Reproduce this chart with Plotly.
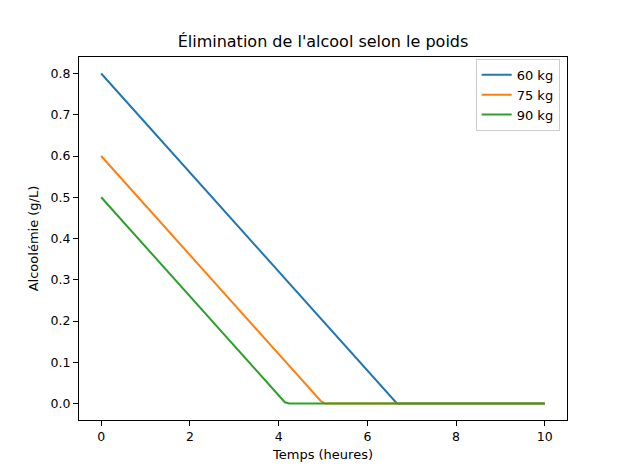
import plotly.graph_objects as go

title = "Élimination de l'alcool selon le poids"
x_label = "Temps (heures)"
y_label = "Alcoolémie (g/L)"

series_names = ["60 kg", "75 kg", "90 kg"]
colors = ["#1f77b4", "#ff7f0e", "#2ca02c"]

t_60 = [0, 6.667, 10]
v_60 = [0.8, 0.0, 0.0]
t_75 = [0, 4.95, 5.05, 10]
v_75 = [0.6, 0.006, 0.0, 0.0]
t_90 = [0, 4.14, 4.24, 10]
v_90 = [0.5, 0.003, 0.0, 0.0]

x_ticks = [0, 2, 4, 6, 8, 10]
y_ticks = [0.0, 0.1, 0.2, 0.3, 0.4, 0.5, 0.6, 0.7, 0.8]

font = "DejaVu Sans"
fig = go.Figure()
for name, t, v, c in zip(series_names, [t_60, t_75, t_90], [v_60, v_75, v_90], colors):
    fig.add_trace(go.Scatter(x=t, y=v, mode="lines", name=name,
                             line=dict(color=c, width=2)))

axis_common = dict(showgrid=False, zeroline=False, showline=True, linecolor="black",
                   linewidth=1.2, mirror=True, ticks="outside", ticklen=5,
                   tickcolor="black", tickwidth=1.2,
                   tickfont=dict(family=font, size=12.5, color="black"))

fig.update_layout(
    width=630, height=472,
    margin=dict(l=79, r=63, t=57, b=52),
    paper_bgcolor="white", plot_bgcolor="white",
    title=dict(text=title, x=0.5127, xanchor="center", y=0.90, yanchor="bottom",
               font=dict(family=font, size=16, color="black")),
    xaxis=dict(range=[-0.5, 10.5], tickvals=x_ticks,
               ticktext=[str(v) for v in x_ticks],
               title=dict(text=x_label, standoff=6,
                          font=dict(family=font, size=13, color="black")),
               **axis_common),
    yaxis=dict(range=[-0.04, 0.84], tickvals=y_ticks,
               ticktext=[f"{v:.1f}" for v in y_ticks],
               title=dict(text=y_label, standoff=8,
                          font=dict(family=font, size=13, color="black")),
               **axis_common),
    legend=dict(x=0.985, y=0.995, xanchor="right", yanchor="top",
                bgcolor="white", bordercolor="#cccccc", borderwidth=1,
                font=dict(family=font, size=13, color="black"),
                itemwidth=30, tracegroupgap=0),
    showlegend=True,
)

fig.write_html("out.html")
